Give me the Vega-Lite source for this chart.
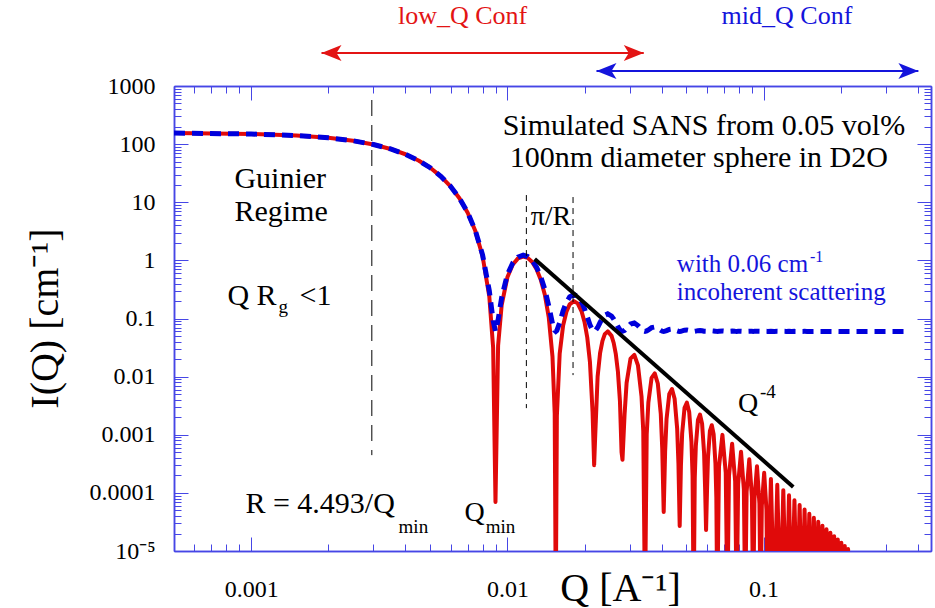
{
"$schema": "https://vega.github.io/schema/vega-lite/v6.json",
"width": 757, "height": 465,
"autosize": {"type": "none"},
"padding": {"left": 174, "top": 86, "right": 4, "bottom": 57},
"background": "white",
"config": {
  "view": {"stroke": null},
  "font": "Liberation Serif",
  "axis": {"grid": false, "domainColor": "#4646e6", "domainWidth": 1.5, "tickColor": "#4646e6", "tickWidth": 1,
           "labelFont": "Liberation Serif", "labelFontSize": 24, "labelColor": "black", "labelFlush": false, "labelOverlap": false,
           "titleFont": "Liberation Serif", "titleFontWeight": "normal", "titleColor": "black"}
},
"datasets": {
  "curve": [
    {"Q":0.0005,"I":155.05,"Iinc":155.11},{"Q":0.001,"I":149.3,"Iinc":149.36},{"Q":0.0015,"I":140.2,"Iinc":140.26},
    {"Q":0.002,"I":128.2,"Iinc":128.26},{"Q":0.0025,"I":114.0,"Iinc":114.06},{"Q":0.003,"I":98.6,"Iinc":98.66},
    {"Q":0.0035,"I":82.6,"Iinc":82.66},{"Q":0.004,"I":66.97,"Iinc":67.03},{"Q":0.0045,"I":52.3,"Iinc":52.36},
    {"Q":0.005,"I":39.16,"Iinc":39.22},{"Q":0.0055,"I":27.92,"Iinc":27.98},{"Q":0.006,"I":18.76,"Iinc":18.82},
    {"Q":0.0065,"I":11.69,"Iinc":11.75},{"Q":0.007,"I":6.585,"Iinc":6.645},{"Q":0.0075,"I":3.19,"Iinc":3.25},
    {"Q":0.008,"I":1.1906,"Iinc":1.2506},{"Q":0.0085,"I":0.2402,"Iinc":0.3002},{"Q":0.0088,"I":0.03126,"Iinc":0.09126},
    {"Q":0.008986,"I":0.00007,"Iinc":0.06007},{"Q":0.0092,"I":0.03405,"Iinc":0.09405},{"Q":0.0095,"I":0.1707,"Iinc":0.2307},
    {"Q":0.01,"I":0.5111,"Iinc":0.5711},{"Q":0.0105,"I":0.8492,"Iinc":0.9092},{"Q":0.011,"I":1.0817,"Iinc":1.1417},
    {"Q":0.011526,"I":1.166,"Iinc":1.226},{"Q":0.012,"I":1.105,"Iinc":1.165},{"Q":0.0125,"I":0.9349,"Iinc":0.9949},
    {"Q":0.013,"I":0.7047,"Iinc":0.7647},{"Q":0.0135,"I":0.4648,"Iinc":0.5248},{"Q":0.014,"I":0.2564,"Iinc":0.3164},
    {"Q":0.0145,"I":0.1056,"Iinc":0.1656},{"Q":0.015,"I":0.02192,"Iinc":0.08192},{"Q":0.0153,"I":0.002294,"Iinc":0.062294},
    {"Q":0.01545,"I":0.000001,"Iinc":0.060001},{"Q":0.0156,"I":0.002094,"Iinc":0.062094},{"Q":0.016,"I":0.02481,"Iinc":0.08481},
    {"Q":0.0165,"I":0.07552,"Iinc":0.13552},{"Q":0.017,"I":0.131,"Iinc":0.191},{"Q":0.0175,"I":0.1751,"Iinc":0.2351},
    {"Q":0.01819,"I":0.199,"Iinc":0.259},{"Q":0.0188,"I":0.1818,"Iinc":0.2418},{"Q":0.0195,"I":0.1309,"Iinc":0.1909},
    {"Q":0.02,"I":0.087,"Iinc":0.147},{"Q":0.0205,"I":0.04712,"Iinc":0.10712},{"Q":0.021,"I":0.01784,"Iinc":0.07784},
    {"Q":0.0215,"I":0.002473,"Iinc":0.062473},{"Q":0.021808,"I":0.0003,"Iinc":0.0603},{"Q":0.022,"I":0.000877,"Iinc":0.060877},
    {"Q":0.0225,"I":0.01006,"Iinc":0.07006},{"Q":0.023,"I":0.02528,"Iinc":0.08528},{"Q":0.0235,"I":0.04135,"Iinc":0.10135},
    {"Q":0.024,"I":0.0538,"Iinc":0.1138},{"Q":0.024646,"I":0.06006,"Iinc":0.12006},{"Q":0.0255,"I":0.05019,"Iinc":0.11019},
    {"Q":0.026,"I":0.03789,"Iinc":0.09789},{"Q":0.0265,"I":0.02427,"Iinc":0.08427},{"Q":0.027,"I":0.01219,"Iinc":0.07219},
    {"Q":0.0275,"I":0.003782,"Iinc":0.063782},{"Q":0.0279,"I":0.000499,"Iinc":0.060499},{"Q":0.028132,"I":0.00037,"Iinc":0.06037},
    {"Q":0.028669,"I":0.002253,"Iinc":0.062253},{"Q":0.029193,"I":0.007819,"Iinc":0.067819},{"Q":0.03024,"I":0.020366,"Iinc":0.080366},
    {"Q":0.031287,"I":0.023691,"Iinc":0.083691},{"Q":0.032334,"I":0.015572,"Iinc":0.075572},{"Q":0.033381,"I":0.004568,"Iinc":0.064568},
    {"Q":0.033905,"I":0.00115,"Iinc":0.06115},{"Q":0.03444,"I":0.000001,"Iinc":0.060001},
    {"Q":0.034975,"I":0.0010155,"Iinc":0.0610155},{"Q":0.035498,"I":0.0035707,"Iinc":0.0635707},{"Q":0.036546,"I":0.009534,"Iinc":0.069534},
    {"Q":0.037593,"I":0.011352,"Iinc":0.071352},{"Q":0.03864,"I":0.007627,"Iinc":0.067627},{"Q":0.039687,"I":0.002284,"Iinc":0.062284},
    {"Q":0.040211,"I":0.0005807,"Iinc":0.0605807},{"Q":0.040742,"I":0.000047,"Iinc":0.060047},
    {"Q":0.041273,"I":0.0005231,"Iinc":0.0605231},{"Q":0.041797,"I":0.0018562,"Iinc":0.0618562},{"Q":0.042844,"I":0.0050431,"Iinc":0.0650431},
    {"Q":0.043891,"I":0.0061044,"Iinc":0.0661044},{"Q":0.044939,"I":0.0041659,"Iinc":0.0641659},{"Q":0.045986,"I":0.0012663,"Iinc":0.0612663},
    {"Q":0.046509,"I":0.00032427,"Iinc":0.06032427},{"Q":0.047038,"I":0.000027,"Iinc":0.060027},
    {"Q":0.047568,"I":0.00029634,"Iinc":0.06029634},{"Q":0.048091,"I":0.0010585,"Iinc":0.0610585},{"Q":0.049139,"I":0.0029131,"Iinc":0.0629131},
    {"Q":0.050186,"I":0.0035697,"Iinc":0.0635697},{"Q":0.051233,"I":0.0024648,"Iinc":0.0624648},{"Q":0.05228,"I":0.0007577,"Iinc":0.0607577},
    {"Q":0.052804,"I":0.00019509,"Iinc":0.06019509},{"Q":0.053332,"I":0.000001,"Iinc":0.060001},
    {"Q":0.05386,"I":0.00018022,"Iinc":0.06018022},{"Q":0.054383,"I":0.000647,"Iinc":0.060647},{"Q":0.055431,"I":0.0017984,"Iinc":0.0617984},
    {"Q":0.056478,"I":0.0022248,"Iinc":0.0622248},{"Q":0.057525,"I":0.0015503,"Iinc":0.0615503},{"Q":0.058572,"I":0.0004808,"Iinc":0.0604808},
    {"Q":0.059096,"I":0.00012432,"Iinc":0.06012432},{"Q":0.059624,"I":0.000023,"Iinc":0.060023},
    {"Q":0.06015,"I":0.00011583,"Iinc":0.06011583},{"Q":0.060674,"I":0.0004175,"Iinc":0.0604175},{"Q":0.061721,"I":0.0011696,"Iinc":0.0611696},
    {"Q":0.062768,"I":0.001458,"Iinc":0.061458},{"Q":0.063815,"I":0.0010234,"Iinc":0.0610234},{"Q":0.064863,"I":0.0003196,"Iinc":0.0603196},
    {"Q":0.065386,"I":0.00008293,"Iinc":0.06008293},{"Q":0.065912,"I":0.000001,"Iinc":0.060001},
    {"Q":0.066963,"I":0.0002814,"Iinc":0.0602814},{"Q":0.069057,"I":0.0009949,"Iinc":0.0609949},{"Q":0.071152,"I":0.0002207,"Iinc":0.0602207},
    {"Q":0.0722,"I":0.000001,"Iinc":0.060001},
    {"Q":0.073251,"I":0.0001965,"Iinc":0.0601965},{"Q":0.075345,"I":0.000702,"Iinc":0.060702},{"Q":0.07744,"I":0.0001573,"Iinc":0.0601573},
    {"Q":0.078488,"I":0.000001,"Iinc":0.060001},
    {"Q":0.079538,"I":0.0001413,"Iinc":0.0601413},{"Q":0.081632,"I":0.0005094,"Iinc":0.0605094},{"Q":0.083727,"I":0.0001151,"Iinc":0.0601151},
    {"Q":0.084776,"I":0.000001,"Iinc":0.060001},
    {"Q":0.085825,"I":0.0001042,"Iinc":0.0601042},{"Q":0.087919,"I":0.00037857,"Iinc":0.06037857},{"Q":0.090014,"I":0.00008614,"Iinc":0.06008614},
    {"Q":0.091062,"I":0.000001,"Iinc":0.060001},
    {"Q":0.092111,"I":0.00007855,"Iinc":0.06007855},{"Q":0.094205,"I":0.00028718,"Iinc":0.06028718},{"Q":0.0963,"I":0.00006575,"Iinc":0.06006575},
    {"Q":0.097348,"I":0.000001,"Iinc":0.060001},
    {"Q":0.098397,"I":0.00006032,"Iinc":0.06006032},{"Q":0.100491,"I":0.00022178,"Iinc":0.06022178},{"Q":0.102586,"I":0.00005105,"Iinc":0.06005105},
    {"Q":0.103634,"I":0.000001,"Iinc":0.060001},
    {"Q":0.106777,"I":0.00017398,"Iinc":0.06017398},{"Q":0.10992,"I":0.000001,"Iinc":0.060001},
    {"Q":0.113062,"I":0.00013836,"Iinc":0.06013836},{"Q":0.116204,"I":0.000001,"Iinc":0.060001},
    {"Q":0.119347,"I":0.00011143,"Iinc":0.06011143},{"Q":0.12249,"I":0.000001,"Iinc":0.060001},
    {"Q":0.125632,"I":0.00009075,"Iinc":0.06009075},{"Q":0.128774,"I":0.000001,"Iinc":0.060001},
    {"Q":0.131916,"I":0.000074657,"Iinc":0.060075},{"Q":0.135058,"I":0.000001,"Iinc":0.060001},
    {"Q":0.138201,"I":0.000061975,"Iinc":0.060062},{"Q":0.141342,"I":0.000001,"Iinc":0.060001},
    {"Q":0.144486,"I":0.000051876,"Iinc":0.060052},{"Q":0.147628,"I":0.000001,"Iinc":0.060001},
    {"Q":0.15077,"I":0.000043753,"Iinc":0.060044},{"Q":0.153912,"I":0.000001,"Iinc":0.060001},
    {"Q":0.157054,"I":0.000037159,"Iinc":0.060037},{"Q":0.160196,"I":0.000001,"Iinc":0.060001},
    {"Q":0.163338,"I":0.000031762,"Iinc":0.060032},{"Q":0.16648,"I":0.000001,"Iinc":0.060001},
    {"Q":0.169622,"I":0.000027311,"Iinc":0.060027},{"Q":0.172764,"I":0.000001,"Iinc":0.060001},
    {"Q":0.175906,"I":0.000023612,"Iinc":0.060024},{"Q":0.179048,"I":0.000001,"Iinc":0.060001},
    {"Q":0.18219,"I":0.000020519,"Iinc":0.060021},{"Q":0.185332,"I":0.000001,"Iinc":0.060001},
    {"Q":0.188474,"I":0.000017916,"Iinc":0.060018},{"Q":0.191616,"I":0.000001,"Iinc":0.060001},
    {"Q":0.194758,"I":0.000015714,"Iinc":0.060016},{"Q":0.1979,"I":0.000001,"Iinc":0.060001},
    {"Q":0.201042,"I":0.000013839,"Iinc":0.060014},{"Q":0.204184,"I":0.000001,"Iinc":0.060001},
    {"Q":0.207326,"I":0.000012236,"Iinc":0.060012},{"Q":0.210468,"I":0.000001,"Iinc":0.060001},
    {"Q":0.21361,"I":0.000010859,"Iinc":0.060011},{"Q":0.2155,"I":0.000001,"Iinc":0.060001},
    {"Q":0.26,"I":null,"Iinc":0.06},{"Q":0.31,"I":null,"Iinc":0.06},{"Q":0.366,"I":null,"Iinc":0.06}
  ],
  "qline": [{"Q":0.01278,"I":1.053},{"Q":0.1305,"I":0.0001268}],
  "guinier": [{"Q":0.002958,"top":574,"bot":0.000446}],
  "pir": [{"Q":0.01186,"top":13.3,"bot":0.00287},{"Q":0.01804,"top":12.29,"bot":0.01062}],
  "arrows": [
    {"conf":"low","end":"left","Q":0.001882,"I":3698},{"conf":"low","end":"right","Q":0.03406,"I":3698},
    {"conf":"mid","end":"left","Q":0.02227,"I":1812},{"conf":"mid","end":"right","Q":0.4018,"I":1812}
  ],
  "conf": [{"conf":"low","label":"low_Q Conf","Q":0.006689,"I":16030},{"conf":"mid","label":"mid_Q Conf","Q":0.1233,"I":16030}],
  "txtBig": [
    {"label":"Simulated SANS from 0.05 vol%","Q":0.009586,"I":143.4},
    {"label":"100nm diameter sphere in D2O","Q":0.01021,"I":40.35},
    {"label":"Guinier","Q":0.0008606,"I":17.55},
    {"label":"Regime","Q":0.0008606,"I":4.75},
    {"label":"Q R","Q":0.000808,"I":0.170},
    {"label":"<1","Q":0.001544,"I":0.170},
    {"label":"R = 4.493/Q","Q":0.00095,"I":0.00004473}
  ],
  "txtMid": [
    {"label":"Q","Q":0.006809,"I":0.0000326},
    {"label":"π/R","Q":0.01233,"I":4.05},
    {"label":"Q","Q":0.07949,"I":0.00245}
  ],
  "txtSmall": [
    {"label":"g","Q":0.001278,"I":0.1239},
    {"label":"min","Q":0.003762,"I":0.00002025},
    {"label":"min","Q":0.008226,"I":0.00002025},
    {"label":"-4","Q":0.09674,"I":0.004266}
  ],
  "txtBlue": [
    {"label":"with 0.06 cm","Q":0.04585,"I":0.6288},
    {"label":"incoherent scattering","Q":0.04585,"I":0.2074}
  ],
  "txtBlueSmall": [{"label":"-1","Q":0.1517,"I":0.9348}]
},
"resolve": {"axis": {"x": "independent", "y": "independent"}},
"layer": [
  {
    "data": {"name": "curve"},
    "mark": {"type": "line", "color": "#e00a0a", "strokeWidth": 4, "clip": true, "strokeJoin": "round"},
    "encoding": {
      "x": {"field": "Q", "type": "quantitative", "scale": {"type": "log", "domain": [0.0005, 0.45], "nice": false},
            "axis": {"orient": "bottom", "values": [0.001, 0.01, 0.1], "tickSize": -14, "labelPadding": 40,
                     "labelExpr": "format(datum.value, '~g')",
                     "title": "Q [A⁻¹]", "titleFontSize": 40, "titleX": 446, "titleY": 49, "titleBaseline": "alphabetic", "titleAlign": "center"}},
      "y": {"field": "I", "type": "quantitative", "scale": {"type": "log", "domain": [0.00001, 1000], "nice": false},
            "axis": {"orient": "left", "values": [0.00001, 0.0001, 0.001, 0.01, 0.1, 1, 10, 100, 1000], "tickSize": -14, "labelPadding": 33,
                     "labelExpr": "datum.value < 0.00005 ? '10⁻⁵' : format(datum.value, '~g')", "labelBaseline": "middle",
                     "title": "I(Q) [cm⁻¹]", "titleFontSize": 40, "titleAngle": 270, "titleX": -117, "titleY": 232, "titleBaseline": "alphabetic", "titleAlign": "center"}}
    }
  },
  {
    "data": {"name": "curve"},
    "mark": {"type": "line", "color": "#0000dc", "strokeWidth": 5, "strokeDash": [11, 7], "clip": true},
    "encoding": {
      "x": {"field": "Q", "type": "quantitative", "scale": {"type": "log", "domain": [0.0005, 0.45], "nice": false},
            "axis": {"orient": "bottom", "values": [0.0006,0.0007,0.0008,0.0009,0.002,0.003,0.004,0.005,0.006,0.007,0.008,0.009,0.02,0.03,0.04,0.05,0.06,0.07,0.08,0.09,0.2,0.3,0.4],
                     "tickSize": -7, "labels": false, "title": null}},
      "y": {"field": "Iinc", "type": "quantitative", "scale": {"type": "log", "domain": [0.00001, 1000], "nice": false},
            "axis": {"orient": "left", "values": [0.00002,0.00003,0.00004,0.00005,0.00006,0.00007,0.00008,0.00009,0.0002,0.0003,0.0004,0.0005,0.0006,0.0007,0.0008,0.0009,0.002,0.003,0.004,0.005,0.006,0.007,0.008,0.009,0.02,0.03,0.04,0.05,0.06,0.07,0.08,0.09,0.2,0.3,0.4,0.5,0.6,0.7,0.8,0.9,2,3,4,5,6,7,8,9,20,30,40,50,60,70,80,90,200,300,400,500,600,700,800,900],
                     "tickSize": -7, "labels": false, "title": null}}
    }
  },
  {
    "data": {"name": "qline"},
    "mark": {"type": "line", "color": "black", "strokeWidth": 4},
    "encoding": {
      "x": {"field": "Q", "type": "quantitative", "scale": {"type": "log", "domain": [0.0005, 0.45], "nice": false},
            "axis": {"orient": "top", "values": [0.001, 0.01, 0.1], "tickSize": -14, "labels": false, "title": null}},
      "y": {"field": "I", "type": "quantitative", "scale": {"type": "log", "domain": [0.00001, 1000], "nice": false},
            "axis": {"orient": "right", "values": [0.00001, 0.0001, 0.001, 0.01, 0.1, 1, 10, 100, 1000], "tickSize": -14, "labels": false, "title": null}}
    }
  },
  {
    "data": {"name": "guinier"},
    "mark": {"type": "rule", "color": "black", "strokeWidth": 1, "strokeDash": [16, 9]},
    "encoding": {
      "x": {"field": "Q", "type": "quantitative", "scale": {"type": "log", "domain": [0.0005, 0.45], "nice": false},
            "axis": {"orient": "top", "values": [0.0006,0.0007,0.0008,0.0009,0.002,0.003,0.004,0.005,0.006,0.007,0.008,0.009,0.02,0.03,0.04,0.05,0.06,0.07,0.08,0.09,0.2,0.3,0.4],
                     "tickSize": -7, "labels": false, "title": null}},
      "y": {"field": "top", "type": "quantitative", "scale": {"type": "log", "domain": [0.00001, 1000], "nice": false},
            "axis": {"orient": "right", "values": [0.00002,0.00003,0.00004,0.00005,0.00006,0.00007,0.00008,0.00009,0.0002,0.0003,0.0004,0.0005,0.0006,0.0007,0.0008,0.0009,0.002,0.003,0.004,0.005,0.006,0.007,0.008,0.009,0.02,0.03,0.04,0.05,0.06,0.07,0.08,0.09,0.2,0.3,0.4,0.5,0.6,0.7,0.8,0.9,2,3,4,5,6,7,8,9,20,30,40,50,60,70,80,90,200,300,400,500,600,700,800,900],
                     "tickSize": -7, "labels": false, "title": null}},
      "y2": {"field": "bot"}
    }
  },
  {
    "data": {"name": "pir"},
    "mark": {"type": "rule", "color": "black", "strokeWidth": 1, "strokeDash": [6, 5]},
    "encoding": {
      "x": {"field": "Q", "type": "quantitative", "axis": null},
      "y": {"field": "top", "type": "quantitative", "axis": null},
      "y2": {"field": "bot"}
    }
  },
  {
    "data": {"name": "arrows"},
    "mark": {"type": "line", "strokeWidth": 2},
    "encoding": {
      "x": {"field": "Q", "type": "quantitative", "axis": null},
      "y": {"field": "I", "type": "quantitative", "axis": null},
      "color": {"field": "conf", "type": "nominal", "scale": {"domain": ["low", "mid"], "range": ["#e31414", "#1414dc"]}, "legend": null}
    }
  },
  {
    "data": {"name": "arrows"},
    "mark": {"type": "point", "filled": true, "opacity": 1, "size": 100, "strokeWidth": 0},
    "encoding": {
      "x": {"field": "Q", "type": "quantitative", "axis": null},
      "y": {"field": "I", "type": "quantitative", "axis": null},
      "color": {"field": "conf", "type": "nominal", "scale": {"domain": ["low", "mid"], "range": ["#e31414", "#1414dc"]}, "legend": null},
      "shape": {"field": "end", "type": "nominal", "scale": {"domain": ["left", "right"], "range": ["M0,0L4,-1.6L3,0L4,1.6Z", "M0,0L-4,-1.6L-3,0L-4,1.6Z"]}, "legend": null}
    }
  },
  {
    "data": {"name": "conf"},
    "mark": {"type": "text", "fontSize": 26, "align": "center", "baseline": "middle", "font": "Liberation Serif"},
    "encoding": {
      "x": {"field": "Q", "type": "quantitative", "axis": null},
      "y": {"field": "I", "type": "quantitative", "axis": null},
      "text": {"field": "label"},
      "color": {"field": "conf", "type": "nominal", "scale": {"domain": ["low", "mid"], "range": ["#e31414", "#1414dc"]}, "legend": null}
    }
  },
  {
    "data": {"name": "txtBig"},
    "mark": {"type": "text", "fontSize": 30, "align": "left", "baseline": "alphabetic", "font": "Liberation Serif", "color": "black"},
    "encoding": {
      "x": {"field": "Q", "type": "quantitative", "axis": null},
      "y": {"field": "I", "type": "quantitative", "axis": null},
      "text": {"field": "label"}
    }
  },
  {
    "data": {"name": "txtMid"},
    "mark": {"type": "text", "fontSize": 28, "align": "left", "baseline": "alphabetic", "font": "Liberation Serif", "color": "black"},
    "encoding": {
      "x": {"field": "Q", "type": "quantitative", "axis": null},
      "y": {"field": "I", "type": "quantitative", "axis": null},
      "text": {"field": "label"}
    }
  },
  {
    "data": {"name": "txtSmall"},
    "mark": {"type": "text", "fontSize": 19, "align": "left", "baseline": "alphabetic", "font": "Liberation Serif", "color": "black"},
    "encoding": {
      "x": {"field": "Q", "type": "quantitative", "axis": null},
      "y": {"field": "I", "type": "quantitative", "axis": null},
      "text": {"field": "label"}
    }
  },
  {
    "data": {"name": "txtBlue"},
    "mark": {"type": "text", "fontSize": 25, "align": "left", "baseline": "alphabetic", "font": "Liberation Serif", "color": "#1414dc"},
    "encoding": {
      "x": {"field": "Q", "type": "quantitative", "axis": null},
      "y": {"field": "I", "type": "quantitative", "axis": null},
      "text": {"field": "label"}
    }
  },
  {
    "data": {"name": "txtBlueSmall"},
    "mark": {"type": "text", "fontSize": 16, "align": "left", "baseline": "alphabetic", "font": "Liberation Serif", "color": "#1414dc"},
    "encoding": {
      "x": {"field": "Q", "type": "quantitative", "axis": null},
      "y": {"field": "I", "type": "quantitative", "axis": null},
      "text": {"field": "label"}
    }
  }
]
}
